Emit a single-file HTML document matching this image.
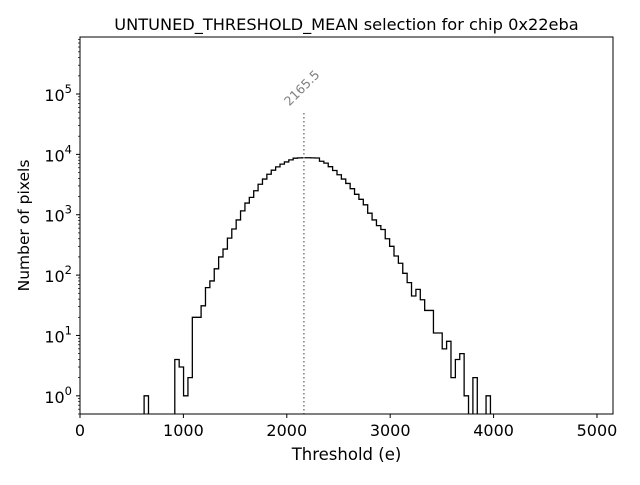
<!DOCTYPE html>
<html><head><meta charset="utf-8"><style>
body{margin:0;background:#fff;}
svg text{font-family:"DejaVu Sans","Liberation Sans",sans-serif;}
</style></head><body>
<svg id="chart" width="640" height="480" xmlns="http://www.w3.org/2000/svg"></svg>
<script>
const binStart = 620;
const binWidth = 42.4;
const counts = [1,0,0,0,0,0,0,4,3,1,2,
20,20,31,62,80,127,200,270,410,580,820,1160,1560,1940,2500,3200,3900,4680,5470,6200,6900,7500,8100,8640,
8750,8800,8800,8750,8700,
7700,7170,6250,5400,4600,3900,3300,2700,2180,1800,1460,1060,820,660,570,400,300,207,157,107,75,45,58,39,26,26,11,11,6,8,2,4,5,1,
0,2,0,0,1];
const meanValue = 2165.5;
const xTicks = [0,1000,2000,3000,4000,5000];
const yTickExps = [0,1,2,3,4,5];

const NS="http://www.w3.org/2000/svg";
const svg=document.getElementById('chart');
const L=80,R=613,T=37,B=414;
const xMin=0,xMax=5155;
const yMinL=Math.log10(0.5),yMaxL=Math.log10(8.8e5);
function xs(v){return L+(v-xMin)/(xMax-xMin)*(R-L);}
function ys(v){const l=Math.log10(Math.max(v,1e-9));return B-(Math.max(l,yMinL-1)-yMinL)/(yMaxL-yMinL)*(B-T);}
function mk(tag,attrs,parent){const e=document.createElementNS(NS,tag);for(const k in attrs)e.setAttribute(k,attrs[k]);(parent||svg).appendChild(e);return e;}

const title=mk('text',{x:(L+R)/2,y:30,'text-anchor':'middle','font-size':'16.2',fill:'#000'});
title.textContent='UNTUNED_THRESHOLD_MEAN selection for chip 0x22eba';



const clip=mk('clipPath',{id:'c'});mk('rect',{x:L,y:T,width:R-L,height:B-T},clip);
let d='';
counts.forEach((c,i)=>{
  const x0=xs(binStart+i*binWidth),x1=xs(binStart+(i+1)*binWidth);
  const y=c>0?ys(c):B+5;
  if(i===0)d+='M'+x0+','+(B+5);
  d+=' L'+x0+','+y+' L'+x1+','+y;
});
d+=' L'+xs(binStart+counts.length*binWidth)+','+(B+5);
const hist=mk('path',{d:d,fill:'none',stroke:'#000','stroke-width':1.3,'clip-path':'url(#c)'});



const mx=xs(meanValue);
const ml=mk('line',{x1:mx,x2:mx,y1:113,y2:B,stroke:'#808080','stroke-width':1.5,'stroke-dasharray':'1.5,2.5'});


const lx=mx+1,ly=91;
const mt=mk('text',{x:lx,y:ly,'font-size':'12.5',fill:'#808080',transform:'rotate(-45 '+lx+' '+ly+')','text-anchor':'middle'});
mt.textContent=String(meanValue);



const fr=mk('rect',{x:L,y:T,width:R-L,height:B-T,fill:'none',stroke:'#000','stroke-width':1});



xTicks.forEach(v=>{
  const x=xs(v);
  mk('line',{x1:x,x2:x,y1:B,y2:B+4,stroke:'#000'});
  const t=mk('text',{x:x,y:B+22,'text-anchor':'middle','font-size':'16'});
  t.textContent=String(v);
  
  
});
const xl=mk('text',{x:(L+R)/2,y:460,'text-anchor':'middle','font-size':'16.5'});
xl.textContent='Threshold (e)';



for(let e=-1;e<=5;e++){
  for(let m=1;m<10;m++){
    const v=m*Math.pow(10,e);
    const l=Math.log10(v);
    if(l<yMinL||l>yMaxL)continue;
    const y=ys(v);
    mk('line',{x1:L,x2:L-(m===1?4:2),y1:y,y2:y,stroke:'#000','stroke-width':m===1?1:0.7});
  }
}
yTickExps.forEach(e=>{
  const y=ys(Math.pow(10,e));
  const t=mk('text',{x:L-8,y:y+7,'text-anchor':'end','font-size':'16'});
  const a=mk('tspan',{},t);a.textContent='10';
  const b=mk('tspan',{dy:'-8','font-size':'11.5'},t);b.textContent=String(e);
  
  
});
const ycy=(T+B)/2;
const yl=mk('text',{x:29,y:ycy,'text-anchor':'middle','font-size':'15.5',transform:'rotate(-90 29 '+ycy+')'});
yl.textContent='Number of pixels';


</script>
</body></html>
